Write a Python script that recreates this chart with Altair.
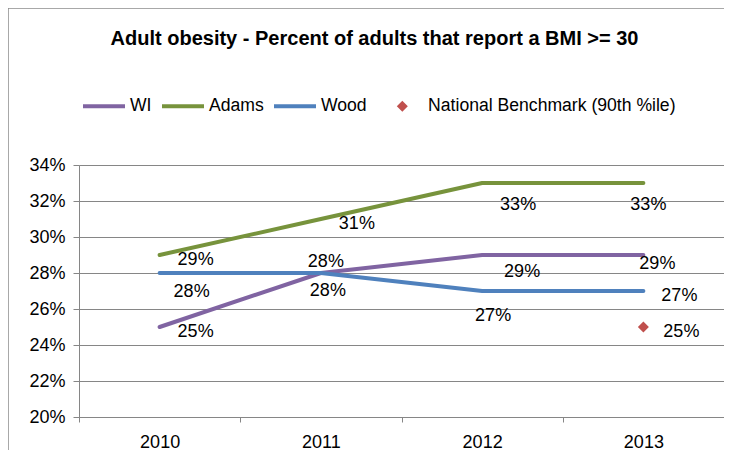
import altair as alt
import pandas as pd

years = ["2010", "2011", "2012", "2013"]
wi = [25, 28, 29, 29]
adams = [29, 31, 33, 33]
wood = [28, 28, 27, 27]
bench_years = ["2013"]
bench_values = [25]

series_names = ["WI", "Adams", "Wood"]
bench_name = "National Benchmark (90th %ile)"
line_colors = ["#8064A2", "#77933C", "#4F81BD"]
bench_color = "#C0504D"

title_text = "Adult obesity - Percent of adults that report a BMI >= 30"
FONT = "Liberation Sans"

rows = []
for name, vals in zip(series_names, [wi, adams, wood]):
    for y, v in zip(years, vals):
        rows.append({"series": name, "year": y, "value": v})
for y, v in zip(bench_years, bench_values):
    rows.append({"series": bench_name, "year": y, "value": v})
df = pd.DataFrame(rows)

# label placement (style): (series, year, dx, dy)
label_style = [
    ("Adams", "2010", 36, 9.5), ("Adams", "2011", 36, 9.5),
    ("Adams", "2012", 36, 26.5), ("Adams", "2013", 5, 26.5),
    ("WI", "2010", 36, 9.5), ("WI", "2011", 5, -6.5),
    ("WI", "2012", 40, 21.5), ("WI", "2013", 14, 13.5),
    ("Wood", "2010", 32, 23.5), ("Wood", "2011", 7, 22.5),
    ("Wood", "2012", 11, 29.5), ("Wood", "2013", 36, 9.5),
    (bench_name, "2013", 38, 9.5),
]

x_enc = alt.X(
    "year:O",
    bandPosition=0.5,
    scale=alt.Scale(type="band", domain=years, paddingInner=0, paddingOuter=0),
    axis=alt.Axis(
        title=None, tickBand="extent", labelAngle=0, labelFont=FONT,
        labelFontSize=18, labelColor="#000000", tickSize=5, labelPadding=11,
        tickColor="#868686", domainColor="#868686", grid=False,
    ),
)
y_enc = alt.Y(
    "value:Q",
    scale=alt.Scale(domain=[20, 34], nice=False, zero=False),
    axis=alt.Axis(
        title=None, values=list(range(20, 35, 2)), labelExpr="datum.value + '%'",
        labelFont=FONT, labelFontSize=18, labelColor="#000000", tickSize=6,
        labelPadding=8, tickColor="#868686", domainColor="#868686",
        gridColor="#868686", gridWidth=1,
    ),
)

base = alt.Chart(df)

lines = base.transform_filter(
    alt.FieldOneOfPredicate(field="series", oneOf=series_names)
).mark_line(strokeWidth=4, strokeCap="round", strokeJoin="round").encode(
    x=x_enc,
    y=y_enc,
    stroke=alt.Stroke(
        "series:N",
        scale=alt.Scale(domain=series_names, range=line_colors),
        legend=alt.Legend(
            title=None, orient="none", direction="horizontal", columns=3,
            legendX=2, legendY=-82, symbolType="stroke", symbolSize=1764,
            symbolStrokeWidth=4, labelFont=FONT, labelFontSize=17.6,
            labelColor="#000000", labelOffset=3, columnPadding=2, padding=0,
            labelLimit=400,
        ),
    ),
    detail="series:N",
)

points = base.transform_filter(
    alt.datum.series == bench_name
).mark_point(filled=True, shape="diamond", size=121, opacity=1).encode(
    x=x_enc,
    y=y_enc,
    fill=alt.Fill(
        "series:N",
        scale=alt.Scale(domain=[bench_name], range=[bench_color]),
        legend=alt.Legend(
            title=None, orient="none", direction="horizontal",
            legendX=314.5, legendY=-67.5, symbolType="diamond", symbolSize=121,
            labelFont=FONT, labelFontSize=17.6, labelColor="#000000",
            labelOffset=17, padding=0, symbolStrokeWidth=0, labelLimit=400,
        ),
    ),
)

label_layers = []
for s, yr, dx, dy in label_style:
    label_layers.append(
        base.transform_filter(
            (alt.datum.series == s) & (alt.datum.year == yr)
        ).transform_calculate(
            label="datum.value + '%'"
        ).mark_text(
            font=FONT, fontSize=18, color="#000000", align="center",
            baseline="alphabetic", dx=dx, dy=dy,
        ).encode(x=x_enc, y=y_enc, text="label:N")
    )

frame_df = pd.DataFrame({"k": [0]})
frame = alt.Chart(frame_df).mark_rect(
    fillOpacity=0, stroke="#8c8c8c", strokeWidth=1.5
).encode(
    x=alt.value(-71), x2=alt.value(800), y=alt.value(-157), y2=alt.value(400)
)

chart = alt.layer(
    frame, lines, points, *label_layers
).properties(
    width=645,
    height=252,
    title=alt.TitleParams(
        title_text, font=FONT, fontSize=20, fontWeight="bold", color="#000000",
        anchor="middle", baseline="alphabetic", dx=-27, dy=58, offset=0,
    ),
    autosize=alt.AutoSizeParams(type="none"),
    padding={"left": 71, "top": 157, "right": 0, "bottom": 33},
).configure_view(
    fill="#D9D9D9", strokeWidth=0
).configure(
    background="#FFFFFF"
)

chart.save("out.html", embed_options={"renderer": "svg", "actions": False})
